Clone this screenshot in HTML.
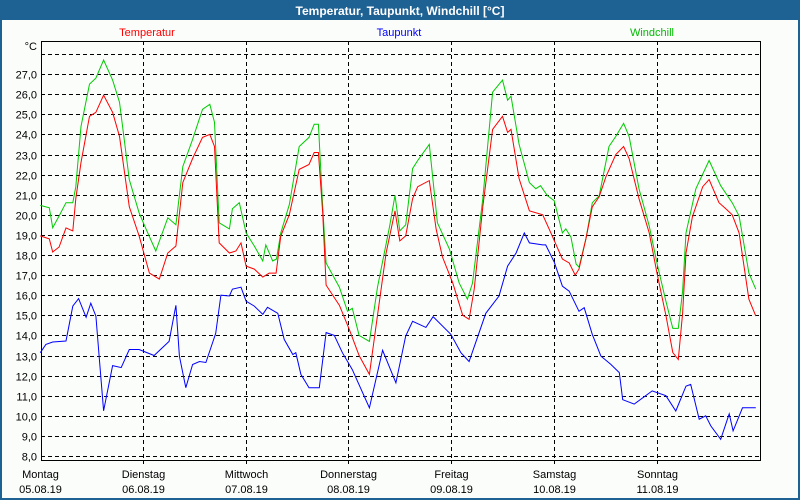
<!DOCTYPE html>
<html><head><meta charset="utf-8"><style>
html,body{margin:0;padding:0;background:#1e6193;}
#wrap{position:relative;width:800px;height:500px;overflow:hidden;background:#1e6193;}
svg{position:absolute;left:0;top:0;}
text{font-family:"Liberation Sans",sans-serif;}
</style></head><body>
<div id="wrap">
<svg id="chart" width="800" height="500"></svg>
</div>
<script>
const yTicks=[8,9,10,11,12,13,14,15,16,17,18,19,20,21,22,23,24,25,26,27,28];
const dayNames=["Montag","Dienstag","Mittwoch","Donnerstag","Freitag","Samstag","Sonntag"];
const dayDates=["05.08.19","06.08.19","07.08.19","08.08.19","09.08.19","10.08.19","11.08.19"];
const tempHours=[0,2.1,2.9,4.4,6.0,7.6,8.3,9.5,11.5,13.0,14.8,16.9,18.5,20.8,23.1,25.5,27.8,29.8,31.7,33.3,35.6,37.9,39.6,40.7,41.8,44.2,45.7,46.9,48.1,50.0,52.0,53.5,55.1,56.2,58.2,60.5,62.8,64.0,65.0,66.0,66.8,69.9,72.2,74.5,76.9,78.8,80.8,82.9,84.0,85.4,87.0,88.2,90.9,92.5,94.0,96.4,98.7,100.2,101.4,103.4,105.7,108.0,109.2,110.0,111.9,114.3,117.4,118.9,122.0,123.6,125.0,125.9,127.5,129.0,130.6,132.2,134.5,136.3,137.6,139.9,142.3,144.2,146.2,147.8,149.1,150.1,150.9,152.4,154.8,156.3,158.6,160.2,161.7,163.3,165.6,167.2];
const tempValues=[18.95,18.8,18.15,18.4,19.35,19.2,20.8,22.6,24.9,25.1,25.95,25.1,23.9,20.4,18.95,17.1,16.8,18.1,18.45,21.6,22.8,23.85,24.0,23.4,18.6,18.1,18.2,18.6,17.45,17.3,16.9,17.1,17.1,18.95,20.0,22.26,22.5,23.1,23.1,20.1,16.5,15.5,14.3,13.0,12.06,15.0,18.1,20.2,18.7,18.95,20.8,21.4,21.7,19.3,17.9,16.6,15.0,14.8,16.3,20.4,24.25,24.9,24.1,24.25,21.8,20.2,20.0,19.3,17.8,17.6,17.0,17.3,18.8,20.4,20.9,21.9,23.0,23.4,22.8,20.8,19.1,17.0,15.0,13.15,12.8,15.1,18.1,19.9,21.4,21.75,20.6,20.3,20.0,19.1,15.8,14.96];
const windHours=[0,2.1,2.9,4.4,6.0,7.6,8.3,9.5,11.5,13.0,14.8,16.9,18.5,20.8,23.1,24.7,27.0,29.8,31.7,33.3,35.6,37.9,39.6,40.7,41.8,44.2,44.9,46.5,48.1,50.0,52.0,52.7,54.3,55.2,56.2,58.2,60.5,62.8,64.0,65.0,66.0,66.8,69.9,71.8,72.9,74.5,76.9,78.8,81.6,82.9,84.0,85.4,87.0,88.2,90.9,92.8,95.6,97.9,99.8,101.0,103.4,105.7,108.0,109.2,110.0,111.9,114.3,115.8,116.9,118.5,120.1,122.0,122.8,124.0,125.2,125.9,127.5,129.0,130.6,132.9,134.5,136.3,137.6,139.9,142.3,144.2,146.2,147.8,149.1,150.1,150.9,153.2,156.3,159.0,161.7,163.3,165.6,167.2];
const windValues=[20.47,20.35,19.36,19.94,20.6,20.6,21.4,24.4,26.5,26.8,27.7,26.7,25.6,21.75,20.1,19.3,18.2,19.85,19.5,22.4,23.75,25.25,25.5,24.6,19.6,19.3,20.3,20.6,19.1,18.45,17.7,18.5,17.7,17.8,19.1,20.5,23.4,23.85,24.5,24.5,20.4,17.6,16.4,15.2,15.35,14.0,13.7,16.4,19.4,20.97,19.2,19.5,22.3,22.7,23.5,19.6,18.3,16.6,15.8,16.6,20.8,26.1,26.7,25.7,25.9,23.5,21.6,21.3,21.45,20.95,20.7,19.1,19.3,18.9,17.55,17.4,18.8,20.6,20.95,23.4,23.9,24.55,23.9,21.3,19.45,17.5,15.7,14.35,14.35,16.2,19.1,21.3,22.7,21.45,20.6,19.94,17.1,16.3];
const dewHours=[0,1.3,2.9,6.0,7.6,8.96,10.7,11.8,13.0,13.8,14.8,16.9,18.9,20.8,23.1,26.6,30.1,31.7,32.5,34.0,35.6,37.2,38.7,41.0,42.2,44.2,44.9,46.9,48.1,50.0,52.0,53.1,55.5,57.0,59.0,59.7,60.9,62.8,65.2,66.8,68.7,70.6,72.9,76.9,80.0,83.1,85.4,87.0,90.1,91.8,95.95,98.3,100.2,104.1,107.2,109.2,111.2,113.1,114.3,117.4,118.1,120.1,122.0,123.6,125.9,127.1,129.0,131.0,133.3,135.3,136.1,138.8,143.0,146.2,148.5,150.9,152.0,153.97,155.5,156.7,159.0,160.98,161.9,164.1,167.2];
const dewValues=[13.14,13.55,13.67,13.72,15.46,15.83,14.9,15.6,14.96,12.8,10.25,12.5,12.4,13.3,13.3,13.0,13.7,15.5,12.97,11.4,12.55,12.7,12.65,14.1,16.0,15.96,16.3,16.4,15.7,15.46,15.05,15.4,15.1,13.8,13.05,13.14,12.06,11.4,11.4,14.14,14.0,13.14,12.3,10.4,13.26,11.64,13.97,14.7,14.4,14.93,14.05,13.14,12.7,15.1,15.96,17.45,18.1,19.1,18.6,18.5,18.5,17.65,16.45,16.2,15.2,15.38,14.05,12.97,12.56,12.15,10.8,10.58,11.24,11.0,10.24,11.48,11.56,9.83,10.0,9.5,8.83,10.1,9.25,10.4,10.4];

const NS="http://www.w3.org/2000/svg";
const svg=document.getElementById('chart');
const L=41,R=760,T=41,B=460;
const X0=40.3,PXH=102.7/24;
const xs=h=>X0+h*PXH;
const ys=v=>456-(v-8)*20.1;
function mk(tag,attrs,parent){const e=document.createElementNS(NS,tag);for(const k in attrs)e.setAttribute(k,attrs[k]);(parent||svg).appendChild(e);return e;}

let e;
e=mk('rect',{x:2,y:20,width:796,height:478,fill:'#fbfdfb'});


e=mk('text',{x:400,y:15,'text-anchor':'middle','font-size':'12','font-weight':'bold',fill:'#ffffff'});
e.textContent='Temperatur, Taupunkt, Windchill [°C]';



yTicks.forEach(v=>{
  const y=Math.round(ys(v))+0.5;
  const g=mk('line',{x1:L,x2:R,y1:y,y2:y,stroke:'#000','stroke-width':1,'stroke-dasharray':'4,3'});
  
  
  if(v<=27){const t=mk('text',{x:37,y:y+4,'text-anchor':'end','font-size':'11',fill:'#000'});
  t.textContent=v.toFixed(1).replace('.',',');
  
  }
});
dayNames.forEach((d,i)=>{
  const x=Math.round(xs(i*24))+0.5;
  if(i>0){const g=mk('line',{x1:x,x2:x,y1:T,y2:B,stroke:'#000','stroke-width':1,'stroke-dasharray':'4,3'});
  
  
  const tk=mk('line',{x1:x,x2:x,y1:B,y2:B+4,stroke:'#000'});
  
  }
  const t1=mk('text',{x:x,y:478,'text-anchor':'middle','font-size':'11',fill:'#000'});
  t1.textContent=d;
  
  
  const t2=mk('text',{x:x,y:493,'text-anchor':'middle','font-size':'11',fill:'#000'});
  t2.textContent=dayDates[i];
  
  
});
e=mk('rect',{x:L+0.5,y:T+0.5,width:R-L,height:B-T,fill:'none',stroke:'#000','stroke-width':1,'shape-rendering':'crispEdges'});


e=mk('text',{x:37,y:50,'text-anchor':'end','font-size':'11',fill:'#000'});
e.textContent='°C';



function series(hours,vals,color,name){
  const pts=hours.map((h,i)=>xs(h).toFixed(1)+','+ys(vals[i]).toFixed(1)).join(' ');
  const p=mk('polyline',{points:pts,fill:'none',stroke:color,'stroke-width':1,'stroke-linejoin':'miter'});
  
  
}
series(dewHours,dewValues,'#0000ff','dewpoint-line');
series(windHours,windValues,'#00cc00','windchill-line');
series(tempHours,tempValues,'#ff0000','temperature-line');

const legends=[['Temperatur','#ff0000',147,'legend-temperatur'],['Taupunkt','#0000ff',399,'legend-taupunkt'],['Windchill','#00bb00',652,'legend-windchill']];
legends.forEach(l=>{
  const t=mk('text',{x:l[2],y:36,'text-anchor':'middle','font-size':'11',fill:l[1]});
  t.textContent=l[0];
  
  
});
</script>
</body></html>
